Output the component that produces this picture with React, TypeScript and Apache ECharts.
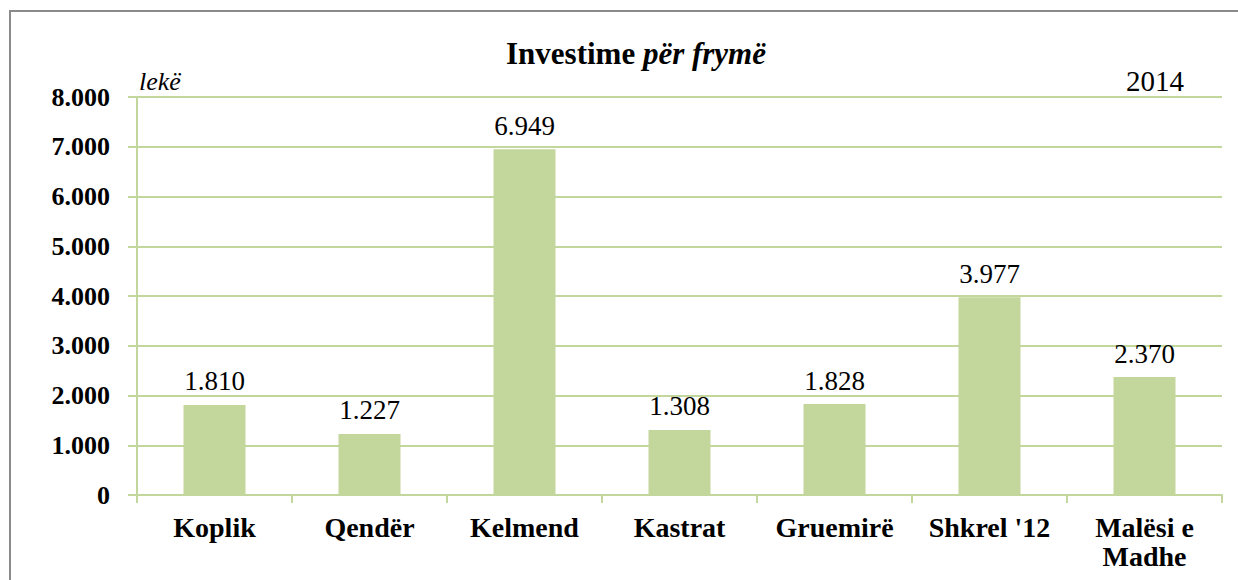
import React, { useEffect, useRef } from "react";
import * as echarts from "echarts";

const categories = ["Koplik", "Qendër", "Kelmend", "Kastrat", "Gruemirë", "Shkrel '12", "Malësi e\nMadhe"];
const values = [1810, 1227, 6949, 1308, 1828, 3977, 2370];
const yMin = 0;
const yMax = 8000;
const yStep = 1000;
const titleMain = "Investime ";
const titleItalic = "për frymë";
const unitLabel = "lekë";
const yearLabel = "2014";

const FONT = "Liberation Serif";
const GREEN = "#c3d69b";

const fmt = (n: number) => String(Math.round(n)).replace(/\B(?=(\d{3})+(?!\d))/g, ".");

export default function App() {
  const ref = useRef<HTMLDivElement>(null);
  useEffect(() => {
    if (!ref.current) return;
    const chart = echarts.init(ref.current, null, { renderer: "svg" });
    chart.setOption({
      animation: false,
      backgroundColor: "#ffffff",
      textStyle: { fontFamily: FONT },
      title: {
        text: `{b|${titleMain}}{i|${titleItalic}}`,
        left: 631,
        top: 33,
        textAlign: "center",
        textStyle: {
          fontFamily: FONT,
          rich: {
            b: { fontFamily: FONT, fontSize: 31, fontWeight: "bold", color: "#000", lineHeight: 31 },
            i: { fontFamily: FONT, fontSize: 31, fontWeight: "bold", fontStyle: "italic", color: "#000", lineHeight: 31 },
          },
        },
      },
      graphic: [
        {
          type: "rect",
          shape: { x: 10, y: 11, width: 1240, height: 600 },
          style: { fill: "none", stroke: "#8a8a8a", lineWidth: 2 },
          silent: true,
        },
        {
          type: "text",
          x: 139,
          y: 81,
          style: {
            text: unitLabel,
            fontFamily: FONT,
            fontSize: 26,
            fontStyle: "italic",
            fill: "#000",
            textAlign: "left",
            verticalAlign: "middle",
          },
        },
        {
          type: "text",
          x: 1184,
          y: 81,
          style: {
            text: yearLabel,
            fontFamily: FONT,
            fontSize: 29,
            fill: "#000",
            textAlign: "right",
            verticalAlign: "middle",
          },
        },
      ],
      grid: { left: 137, right: 16, top: 97, bottom: 85, containLabel: false },
      xAxis: {
        type: "category",
        data: categories,
        axisLine: { show: true, lineStyle: { color: GREEN, width: 2 } },
        axisTick: { show: true, length: 8, alignWithLabel: false, lineStyle: { color: GREEN, width: 2 } },
        axisLabel: {
          interval: 0,
          margin: 18,
          fontFamily: FONT,
          fontSize: 28,
          fontWeight: "bold",
          color: "#000",
          lineHeight: 29,
          verticalAlign: "top",
        },
      },
      yAxis: {
        type: "value",
        min: yMin,
        max: yMax,
        interval: yStep,
        axisLine: { show: true, lineStyle: { color: GREEN, width: 2 } },
        axisTick: { show: true, length: 9, lineStyle: { color: GREEN, width: 2 } },
        splitLine: { show: true, lineStyle: { color: GREEN, width: 2 } },
        axisLabel: {
          margin: 27,
          fontFamily: FONT,
          fontSize: 26,
          fontWeight: "bold",
          color: "#000",
          formatter: (v: number) => fmt(v),
        },
      },
      series: [
        {
          type: "bar",
          data: values,
          barCategoryGap: "60%",
          itemStyle: { color: GREEN },
          label: {
            show: true,
            position: "top",
            distance: 10,
            fontFamily: FONT,
            fontSize: 27,
            color: "#000",
            formatter: (p: any) => fmt(p.value),
          },
        },
      ],
    });
    return () => chart.dispose();
  }, []);
  return (
    <div
      ref={ref}
      style={{ position: "fixed", left: 0, top: 0, width: 1238, height: 580, background: "#fff" }}
    />
  );
}
